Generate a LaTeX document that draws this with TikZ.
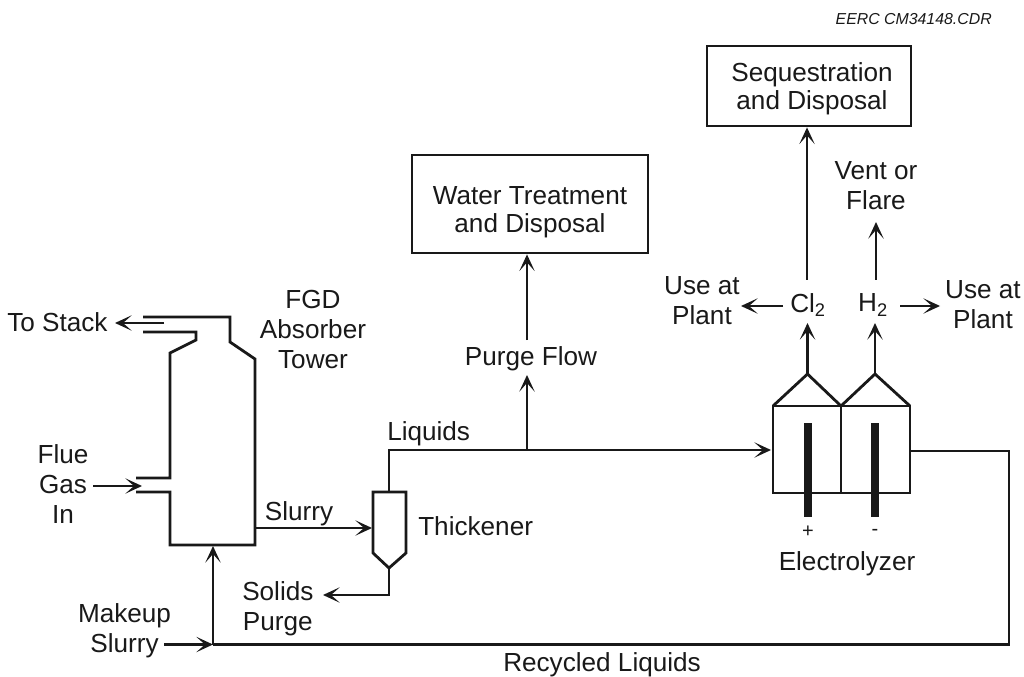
\documentclass[tikz,border=0pt]{standalone}
\usepackage{fontspec}
\setmainfont{Liberation Sans}
\usetikzlibrary{arrows.meta,calc}
\definecolor{ink}{gray}{0.1}
\tikzset{
  x=0.75pt,y=-0.75pt,
  pipe/.style={draw=ink,line width=2.1pt,line join=miter},
  flow/.style={pipe,-{Stealth[length=12.5pt,width=11.5pt,inset=6.5pt]}},
  thinflow/.style={flow,line width=1.5pt},
  lab/.style={text=ink,font=\fontsize{19.6}{22.5}\selectfont,align=center,inner sep=0pt},
  boxlab/.style={lab,font=\fontsize{19.6}{21}\selectfont},
  sign/.style={text=ink,inner sep=0pt,font=\fontsize{15}{17}\selectfont},
  electrode/.style={fill=ink,draw=none,minimum width=5.5pt,inner sep=0pt,anchor=north}
}
\begin{document}
\begin{tikzpicture}
\useasboundingbox (0,0) rectangle (1024,677);
\fill[white] (0,0) rectangle (1024,677);

% labels
\node[anchor=east,text=ink,inner sep=0pt,font=\fontsize{11.9}{14}\selectfont\itshape] at (992,19) {EERC CM34148.CDR};
\node[lab,anchor=west] (stack) at (7,322) {To Stack};
\node[lab] (fgd) at (313,330) {FGD\\Absorber\\Tower};
\node[lab] (flue) at (63,484) {Flue\\Gas\\In};
\node[lab] (slurryl) at (299,514) {Slurry};
\node[lab,anchor=west] (thick) at (418,526) {Thickener};
\node[lab,anchor=west] (solids) at (242,609) {Solids\\Purge};
\node[lab] (makeup) at (124.5,631) {Makeup\\Slurry};
\node[lab,anchor=west] (recycled) at (503,665) {Recycled Liquids};
\node[lab,anchor=west] (liquids) at (387,434) {Liquids};
\node[lab] (purge) at (531,359) {Purge Flow};
\node[lab] (cl2) at (808,305) {Cl\textsubscript{2}};
\node[lab] (h2) at (873,305) {H\textsubscript{2}};
\node[lab] (useL) at (702,301) {Use at\\Plant};
\node[lab] (useR) at (983,305) {Use at\\Plant};
\node[lab] (vent) at (876,186) {Vent or\\Flare};
\node[lab] (elec) at (847,564) {Electrolyzer};
\node[sign] (plus) at (808,532) {+};
\node[sign] (minus) at (875,532) {-};

% end boxes
\node[pipe,minimum width=177pt,minimum height=73.5pt] (water) at (530,204) {};
\node[boxlab] (waterlab) at (530,212) {Water Treatment\\and Disposal};
\node[pipe,minimum width=153pt,minimum height=60pt] (seq) at (809,86) {};
\node[boxlab] (seqlab) at (812,89) {Sequestration\\and Disposal};

% tower
\coordinate (towerR) at (255,528);
\coordinate (towerB) at (214,546);
\coordinate (stackout) at (164,323);
\coordinate (flueout) at (142,486);
\draw[pipe] (143,317) -- (230,317) -- (230,342) -- (255,359) -- (255,545) -- (170,545) -- (170,492) -- (136,492);
\draw[pipe] (136,478) -- (170,478) -- (170,353) -- (196,340) -- (196,332) -- (143,332);
\draw[flow] (stackout) -- (115,323);
\draw[flow] (93,486) -- (flueout);

% thickener
\coordinate (thickL) at (372,528);
\coordinate (thickT) at (389,492);
\coordinate (thickB) at (389,568);
\draw[pipe] (373,492) -- (406,492) -- (406,553) -- (thickB) -- (373,553) -- cycle;
\draw[flow] (towerR) -- (thickL);
\draw[flow] (thickB) -- (389,595) -- (323,595);

% electrolyzer
\coordinate (elecL) at (771,450);
\coordinate (elecR) at (910,451);
\coordinate (apexA) at (807.5,374);
\coordinate (apexB) at (875,374);
\draw[pipe] (773,406) rectangle (910,493);
\draw[pipe] (841,406) -- (841,493);
\draw[pipe] (773,406) -- (apexA) -- (841,406) -- (apexB) -- (910,406);
\node[electrode,minimum height=70.5pt] (anode) at (808,423) {};
\node[electrode,minimum height=70.5pt] (cathode) at (875,423) {};

% connectors
\draw[flow] (thickT) -- (389,450) -- (elecL);
\coordinate (branch) at (527,450);
\draw[flow] (branch) -- (527,375);
\draw[flow] (527,340) -- (water.south -| branch);
\draw[flow] (apexA) -- (807.5,323);
\draw[thinflow] (apexB) -- (875,323);
\draw[flow] (807,280) -- (seq.south -| 807,0);
\draw[thinflow] (876,280) -- (876,222);
\draw[flow] (783,306) -- (741,306);
\draw[flow] (900,306) -- (940,306);
\coordinate (mk) at (213,644.5);
\draw[pipe] (elecR) -- (1009,451) -- (1009,644.5) -- (mk);
\draw[flow] (mk) -- (towerB -| mk);
\draw[flow] (164,644.5) -- (mk);
\end{tikzpicture}
\end{document}
